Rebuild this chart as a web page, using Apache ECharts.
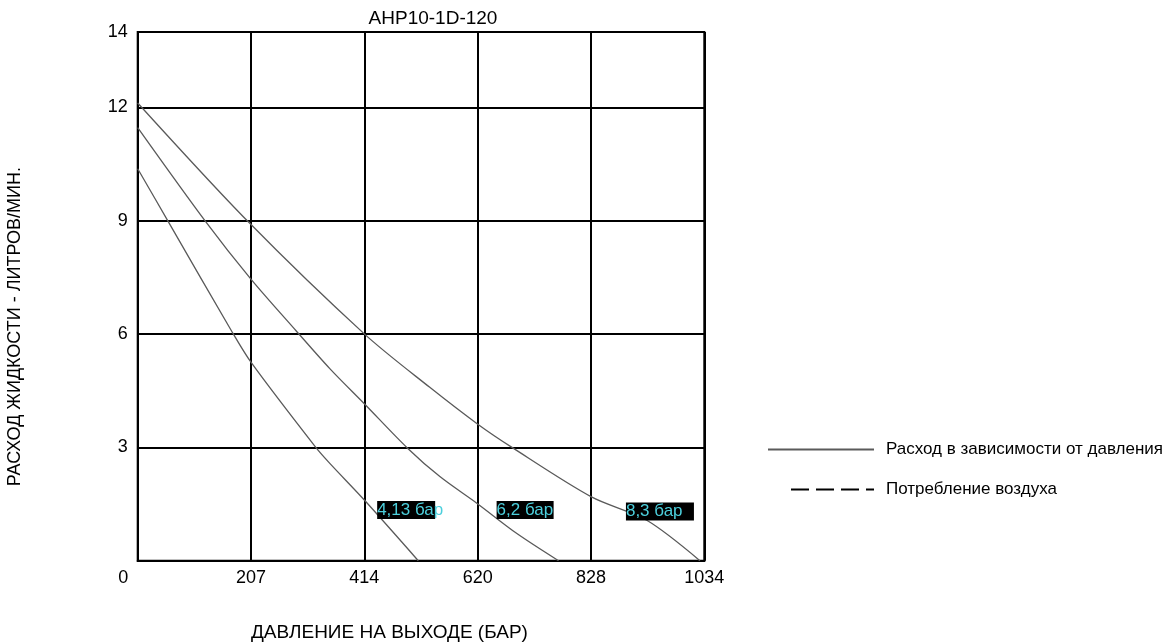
<!DOCTYPE html>
<html>
<head>
<meta charset="utf-8">
<script src="https://cdn.jsdelivr.net/npm/echarts@6/dist/echarts.min.js"></script>
<style>
  html, body { margin: 0; padding: 0; background: #fff; }
  #chart { width: 1171px; height: 643px; }
</style>
</head>
<body>
<div id="chart"></div>
<script>
// pressure (bar) / flow (l/min) points
const curve413 = [[0, 10.38], [55, 9], [171, 6.09], [207, 5.25], [325, 3], [351, 2.57], [414, 1.6], [512, 0]];
const curve62 = [[0, 11.47], [123, 9], [207, 7.45], [289, 6.09], [351, 5.08], [414, 4.15], [491, 3], [552, 2.22], [620, 1.51], [692, 0.72], [768, 0]];
const curve83 = [[0, 12.12], [200, 9], [414, 6], [533, 4.59], [620, 3.62], [683, 3], [828, 1.69], [929, 1.07], [1026, 0]];

const xTickLabels = ['0', '207', '414', '620', '828', '1034'];
const curveNames = ['4,13 бар', '6,2 бар', '8,3 бар'];
const curveLabelPos = [[437, 1.34], [655, 1.34], [891, 1.30]];
const labelBoxWidth = [58, 57, 68];

const FONT = 'Liberation Sans, Arial, sans-serif';
const flowName = 'Расход в зависимости от давления';
const airName = 'Потребление воздуха';

const chart = echarts.init(document.getElementById('chart'), null, { renderer: 'canvas' });

const curveSeries = [curve413, curve62, curve83].map(d => ({
  name: flowName,
  type: 'line',
  data: d,
  smooth: 0.3,
  showSymbol: false,
  symbol: 'none',
  silent: true,
  lineStyle: { color: '#5a5a5a', width: 1.3 },
  itemStyle: { color: '#5a5a5a' },
  z: 3
}));

const legendText = { fontFamily: FONT, fontSize: 17, color: '#000', padding: [0, 0, 0, 7] };

const option = {
  animation: false,
  backgroundColor: '#fff',
  textStyle: { fontFamily: FONT },
  title: {
    text: 'AHP10-1D-120',
    left: 428,
    top: 4,
    textAlign: 'center',
    textStyle: { fontFamily: FONT, fontSize: 19, fontWeight: 'normal', color: '#000' }
  },
  legend: [
    {
      data: [flowName],
      orient: 'vertical',
      left: 762,
      top: 436,
      itemWidth: 106,
      itemHeight: 12,
      itemStyle: { opacity: 0 },
      textStyle: legendText,
      selectedMode: false
    },
    {
      data: [airName],
      orient: 'vertical',
      left: 785,
      top: 476,
      itemWidth: 83,
      itemHeight: 12,
      itemStyle: { opacity: 0 },
      textStyle: legendText,
      selectedMode: false
    }
  ],
  grid: {
    left: 137.7,
    right: 466.7,
    top: 32,
    bottom: 82.3,
    show: true,
    borderColor: '#000',
    borderWidth: 2
  },
  xAxis: {
    type: 'value',
    min: 0,
    max: 1034,
    interval: 206.8,
    axisLine: { show: true, lineStyle: { color: '#000', width: 2 } },
    axisTick: { show: false },
    splitLine: { show: true, lineStyle: { color: '#000', width: 2 } },
    axisLabel: {
      margin: 8,
      fontFamily: FONT,
      fontSize: 18,
      color: '#000',
      formatter: v => {
        const i = Math.round(v / 206.8);
        return i === 0 ? '{z|' + xTickLabels[0] + '}' : xTickLabels[i];
      },
      rich: { z: { fontFamily: FONT, fontSize: 18, color: '#000', padding: [0, 29, 0, 0] } }
    }
  },
  yAxis: {
    type: 'value',
    min: 0,
    max: 14,
    interval: 3,
    axisLine: { show: true, lineStyle: { color: '#000', width: 2 } },
    axisTick: { show: false },
    splitLine: { show: true, lineStyle: { color: '#000', width: 2 } },
    axisLabel: {
      margin: 10,
      fontFamily: FONT,
      fontSize: 18,
      color: '#000',
      formatter: v => (v === 0 ? '' : String(v))
    }
  },
  graphic: [
    {
      type: 'text',
      left: 6,
      top: 167,
      rotation: Math.PI / 2,
      style: {
        text: 'РАСХОД ЖИДКОСТИ - ЛИТРОВ/МИН.',
        font: '18px ' + FONT,
        fill: '#000'
      }
    },
    {
      type: 'text',
      left: 251,
      top: 623,
      style: {
        text: 'ДАВЛЕНИЕ НА ВЫХОДЕ (БАР)',
        font: '19px ' + FONT,
        fill: '#000'
      }
    }
  ],
  series: [
    ...curveSeries,
    {
      name: airName,
      type: 'line',
      data: [],
      showSymbol: false,
      symbol: 'none',
      lineStyle: { color: '#000', width: 1.5, type: [18, 7] },
      itemStyle: { color: '#000' }
    },
    {
      name: 'labels',
      type: 'scatter',
      symbolSize: 0,
      silent: true,
      z: 5,
      itemStyle: { opacity: 1 },
      data: curveLabelPos.map((p, i) => ({
        value: p,
        label: {
          show: true,
          position: 'right',
          distance: 0,
          formatter: curveNames[i],
          width: labelBoxWidth[i],
          overflow: 'none',
          align: 'left',
          fontFamily: FONT,
          fontSize: 17,
          lineHeight: 18,
          color: '#4ccfdc',
          backgroundColor: '#000',
          opacity: 1
        }
      }))
    }
  ]
};

chart.setOption(option);
</script>
</body>
</html>
